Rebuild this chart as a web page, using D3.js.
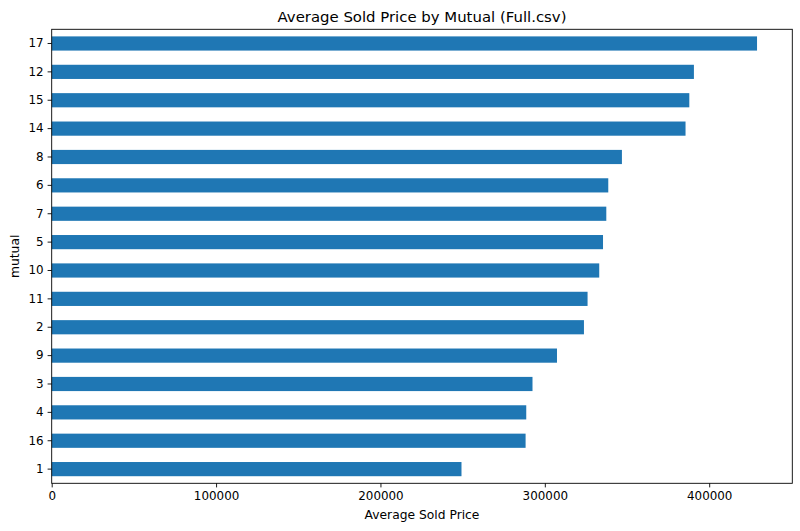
<!DOCTYPE html>
<html><head><meta charset="utf-8">
<script src="https://cdn.jsdelivr.net/npm/d3@7"></script>
<style>body{margin:0;background:#fff;} text{font-family:"DejaVu Sans",sans-serif;fill:#000;}</style>
</head><body><svg id="c" width="800" height="531"></svg>
<script>
const categories = ["17","12","15","14","8","6","7","5","10","11","2","9","3","4","16","1"];
const values = [429100,390700,387900,385600,346900,338600,337400,335400,333100,326000,323800,307400,292500,288700,288300,249300];
const xTicks = [0,100000,200000,300000,400000];

const svg = d3.select("#c");
const L = 51.7, R = 792.3, T = 29.3, B = 483.3;
const x = d3.scaleLinear().domain([0, d3.max(values)*1.05]).range([L, R]);
const y = d3.scaleBand().domain(categories).range([T, B]).paddingInner(0.5).paddingOuter(0.25);

svg.append("g").selectAll("rect").data(values).join("rect")
  .attr("x", x(0)).attr("y", (d,i)=>y(categories[i]))
  .attr("width", d=>x(d)-x(0)).attr("height", y.bandwidth())
  .attr("fill", "#1f77b4");

const xa = svg.append("g").attr("transform",`translate(0,${B})`)
  .call(d3.axisBottom(x).tickValues(xTicks).tickFormat(d3.format("d")).tickSizeInner(4.1).tickSizeOuter(0).tickPadding(4));
const ya = svg.append("g").attr("transform",`translate(${L},0)`)
  .call(d3.axisLeft(y).tickSizeInner(4.1).tickSizeOuter(0).tickPadding(4));
[xa,ya].forEach(a=>{a.select(".domain").remove(); a.selectAll("text").attr("font-size","11.9px").attr("font-family","DejaVu Sans"); a.selectAll("line").attr("stroke","#000").attr("stroke-width",0.9);});

svg.append("rect").attr("x",L).attr("y",T).attr("width",R-L).attr("height",B-T)
  .attr("fill","none").attr("stroke","#000").attr("stroke-width",0.9);

svg.append("text").attr("x",(L+R)/2).attr("y",22).attr("text-anchor","middle").attr("font-size","14.9px").text("Average Sold Price by Mutual (Full.csv)");
svg.append("text").attr("x",(L+R)/2).attr("y",519).attr("text-anchor","middle").attr("font-size","12.3px").text("Average Sold Price");
svg.append("text").attr("transform",`translate(19,${(T+B)/2}) rotate(-90)`).attr("text-anchor","middle").attr("font-size","12.3px").text("mutual");
</script></body></html>
